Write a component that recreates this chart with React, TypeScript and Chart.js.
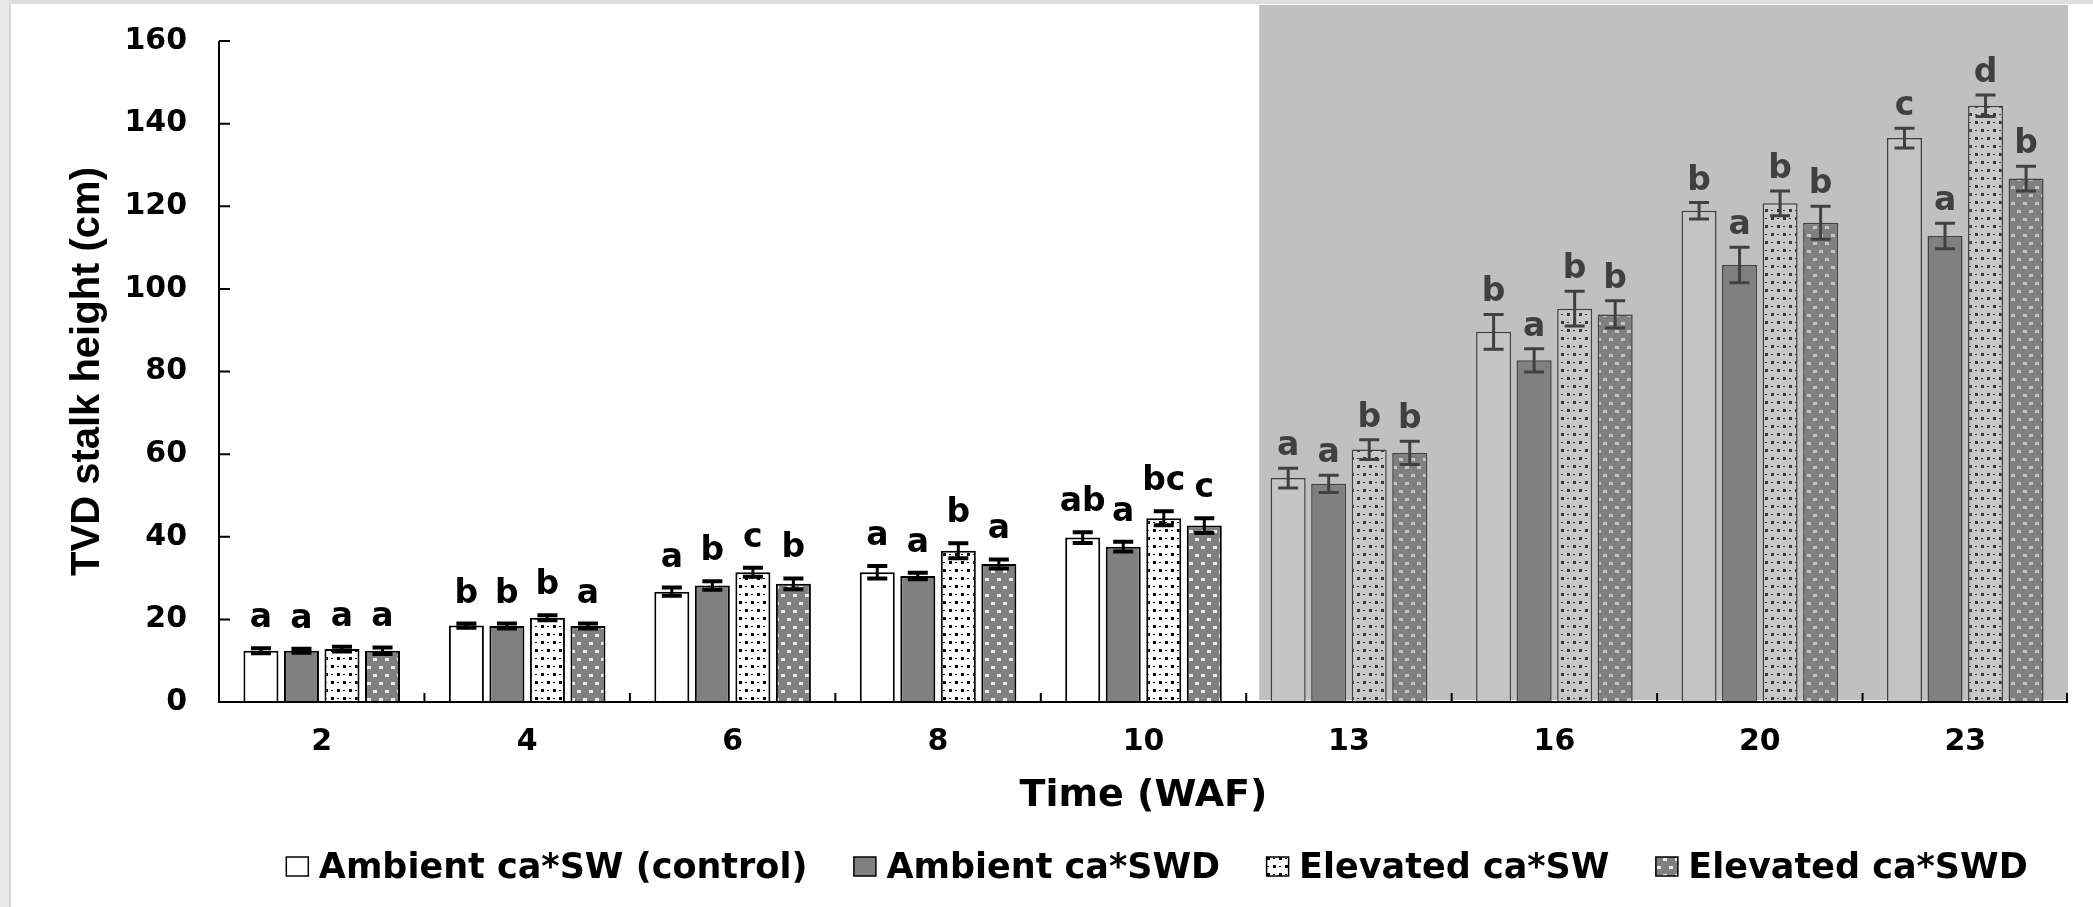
import React, { useEffect, useRef } from 'react';
import { Chart, registerables } from 'chart.js';

Chart.register(...registerables);

// ---------- data ----------
const categories = ['2', '4', '6', '8', '10', '13', '16', '20', '23'];
const seriesLabels = ['Ambient ca*SW (control)', 'Ambient ca*SWD', 'Elevated ca*SW', 'Elevated ca*SWD'];

const ambientSW = [12.4, 18.5, 26.7, 31.4, 39.8, 54.2, 89.6, 118.9, 136.5];
const ambientSWD = [12.4, 18.4, 28.2, 30.5, 37.6, 52.8, 82.7, 105.8, 112.8];
const elevatedSW = [12.8, 20.4, 31.4, 36.6, 44.5, 61.1, 95.2, 120.7, 144.3];
const elevatedSWD = [12.4, 18.4, 28.6, 33.4, 42.7, 60.3, 93.8, 116.0, 126.7];

const ambientSWErr = [0.6, 0.5, 1.0, 1.5, 1.3, 2.4, 4.2, 2.0, 2.4];
const ambientSWDErr = [0.5, 0.6, 1.0, 0.8, 1.2, 2.1, 2.8, 4.3, 3.1];
const elevatedSWErr = [0.6, 0.6, 1.1, 1.8, 1.7, 2.4, 4.2, 3.0, 2.6];
const elevatedSWDErr = [0.8, 0.6, 1.3, 1.1, 1.8, 2.8, 3.3, 4.0, 3.0];

const ambientSWLetters = ['a', 'b', 'a', 'a', 'ab', 'a', 'b', 'b', 'c'];
const ambientSWDLetters = ['a', 'b', 'b', 'a', 'a', 'a', 'a', 'a', 'a'];
const elevatedSWLetters = ['a', 'b', 'c', 'b', 'bc', 'b', 'b', 'b', 'd'];
const elevatedSWDLetters = ['a', 'a', 'b', 'a', 'c', 'b', 'b', 'b', 'b'];

const yMin = 0;
const yMax = 160;
const yStep = 20;

const xTitle = 'Time (WAF)';
const yTitle = 'TVD stalk height (cm)';

// index of first category in the shaded (grey) period
const shadedFrom = 5;

// ---------- styles ----------
const FONT = '"DejaVu Sans", sans-serif';
const FONT_ARIAL = '"Liberation Sans", Arial, sans-serif';
const SHADE = '#c0c0c0';
const DARK = '#404040';

function makePattern(ctx: CanvasRenderingContext2D, bg: string, fg: string, kind: 'sw' | 'swd') {
  const c = document.createElement('canvas');
  c.width = 12;
  c.height = 16;
  const g = c.getContext('2d')!;
  g.fillStyle = bg;
  g.fillRect(0, 0, 12, 16);
  g.fillStyle = fg;
  if (kind === 'sw') {
    g.fillRect(1, 1, 3, 3);
    g.fillRect(7, 9, 3, 3);
    g.fillRect(7, 2, 2, 1);
    g.fillRect(1, 10, 2, 1);
  } else {
    g.fillRect(1, 2, 4, 3);
    g.fillRect(7, 10, 4, 3);
  }
  return ctx.createPattern(c, 'repeat')!;
}

export default function App() {
  const ref = useRef<HTMLCanvasElement | null>(null);

  useEffect(() => {
    const canvas = ref.current!;
    const ctx = canvas.getContext('2d')!;

    const swPlain = makePattern(ctx, '#ffffff', '#000000', 'sw');
    const swShade = makePattern(ctx, '#c8c8c8', '#383838', 'sw');
    const swdPlain = makePattern(ctx, '#808080', '#e8e8e8', 'swd');
    const swdShade = makePattern(ctx, '#808080', '#c4c4c4', 'swd');

    const values = [ambientSW, ambientSWD, elevatedSW, elevatedSWD];
    const errors = [ambientSWErr, ambientSWDErr, elevatedSWErr, elevatedSWDErr];
    const letters = [ambientSWLetters, ambientSWDLetters, elevatedSWLetters, elevatedSWDLetters];
    const plainFills: any[] = ['#ffffff', '#808080', swPlain, swdPlain];
    const shadeFills: any[] = ['#c4c4c4', '#808080', swShade, swdShade];
    const legendFills: any[] = ['#ffffff', '#808080', swPlain, swdPlain];

    const datasets = values.map((data, k) => ({
      label: seriesLabels[k],
      data,
      backgroundColor: categories.map((_, i) => (i >= shadedFrom ? shadeFills[k] : plainFills[k])),
      borderColor: categories.map((_, i) => (i >= shadedFrom ? DARK : '#000000')),
      borderWidth: categories.map((_, i) => (i >= shadedFrom ? 1.5 : 2)),
      categoryPercentage: 0.789,
      barPercentage: 0.864,
    }));

    const bgPlugin = {
      id: 'bg',
      beforeDraw(chart: any) {
        const c = chart.ctx;
        const { width, height } = chart;
        c.save();
        c.fillStyle = '#ffffff';
        c.fillRect(0, 0, width, height);
        c.fillStyle = '#e9e9ee';
        c.fillRect(0, 0, 9, height);
        c.fillStyle = '#d4d4d4';
        c.fillRect(9, 0, 2, height);
        c.fillStyle = '#dedede';
        c.fillRect(9, 0, width - 9, 4);
        c.restore();
      },
      beforeDatasetsDraw(chart: any) {
        const c = chart.ctx;
        const x = chart.scales.x;
        const ca = chart.chartArea;
        const b = (x.getPixelForValue(shadedFrom - 1) + x.getPixelForValue(shadedFrom)) / 2 + 13;
        c.save();
        c.fillStyle = SHADE;
        c.fillRect(b, 5, ca.right - b, ca.bottom - 5 - 2);
        c.restore();
      },
    };

    const overlayPlugin = {
      id: 'overlay',
      afterDatasetsDraw(chart: any) {
        const c = chart.ctx;
        const x = chart.scales.x;
        const y = chart.scales.y;
        const ca = chart.chartArea;
        c.save();
        // error bars + letters
        values.forEach((vals, k) => {
          const meta = chart.getDatasetMeta(k);
          meta.data.forEach((bar: any, i: number) => {
            const shaded = i >= shadedFrom;
            const col = shaded ? DARK : '#000000';
            const cx = bar.x;
            const top = y.getPixelForValue(vals[i] + errors[k][i]);
            const bot = y.getPixelForValue(vals[i] - errors[k][i]);
            c.strokeStyle = col;
            c.lineWidth = 3;
            c.beginPath();
            c.moveTo(cx, top);
            c.lineTo(cx, bot);
            c.stroke();
            c.lineWidth = shaded ? 3 : 4;
            c.beginPath();
            c.moveTo(cx - 10, top);
            c.lineTo(cx + 10, top);
            c.moveTo(cx - 10, bot);
            c.lineTo(cx + 10, bot);
            c.stroke();
            c.fillStyle = col;
            c.font = `bold 33px ${FONT}`;
            c.textAlign = 'center';
            c.textBaseline = 'alphabetic';
            c.fillText(letters[k][i], cx, top - (shaded ? 13 : 21));
          });
        });
        // axes
        c.strokeStyle = '#000000';
        c.lineWidth = 2;
        c.beginPath();
        c.moveTo(ca.left, ca.top);
        c.lineTo(ca.left, ca.bottom + 1);
        c.moveTo(ca.left, ca.bottom);
        c.lineTo(ca.right, ca.bottom);
        for (let v = yMin; v <= yMax; v += yStep) {
          const py = y.getPixelForValue(v);
          c.moveTo(ca.left, py);
          c.lineTo(ca.left + 11, py);
        }
        for (let i = 1; i <= categories.length; i++) {
          const px = i < categories.length
            ? (x.getPixelForValue(i - 1) + x.getPixelForValue(i)) / 2
            : ca.right - 1;
          c.moveTo(px, ca.bottom);
          c.lineTo(px, ca.bottom - 9);
        }
        c.stroke();
        c.restore();
      },
      afterDraw(chart: any) {
        const c = chart.ctx;
        c.save();
        c.font = `bold 35px ${FONT}`;
        const boxW = 22;
        const boxH = 19;
        const gapBox = 10.5;
        const gapItem = 46.5;
        const widths = seriesLabels.map((t) => c.measureText(t).width);
        const total = widths.reduce((a, w) => a + boxW + gapBox + w, 0) + gapItem * (seriesLabels.length - 1);
        let px = 1157 - total / 2;
        const boxTop = 857;
        const baseline = 878;
        seriesLabels.forEach((t, k) => {
          c.fillStyle = legendFills[k];
          c.fillRect(px, boxTop, boxW, boxH);
          c.strokeStyle = '#000000';
          c.lineWidth = 1.5;
          c.strokeRect(px, boxTop, boxW, boxH);
          c.fillStyle = '#000000';
          c.textAlign = 'left';
          c.textBaseline = 'alphabetic';
          c.fillText(t, px + boxW + gapBox, baseline);
          px += boxW + gapBox + widths[k] + gapItem;
        });
        c.restore();
      },
    };

    const chart = new Chart(canvas, {
      type: 'bar',
      data: { labels: categories, datasets },
      options: {
        animation: false,
        responsive: false,
        devicePixelRatio: 1,
        layout: { padding: { top: 41, right: 25, left: 0, bottom: 0 } },
        plugins: { legend: { display: false }, tooltip: { enabled: false } },
        scales: {
          x: {
            type: 'category',
            grid: { display: false, drawTicks: false },
            border: { display: false },
            ticks: { color: '#000', padding: 22, font: { family: FONT, size: 30, weight: 'bold' } },
            title: {
              display: true,
              text: xTitle,
              color: '#000',
              font: { family: FONT, size: 38, weight: 'bold' },
              padding: { top: 0, bottom: 88 },
            },
            afterFit(s: any) {
              s.height = 205;
              s.paddingLeft = 0;
              s.paddingRight = 0;
            },
          },
          y: {
            min: yMin,
            max: yMax,
            grid: { display: false, drawTicks: false },
            border: { display: false },
            ticks: { stepSize: yStep, color: '#000', padding: 32, font: { family: FONT, size: 30, weight: 'bold' } },
            title: {
              display: true,
              text: yTitle,
              color: '#000',
              font: { family: FONT_ARIAL, size: 40, weight: 'bold' },
              padding: { top: 64, bottom: 0 },
            },
            afterFit(s: any) {
              s.width = 219;
              s.paddingTop = 0;
              s.paddingBottom = 0;
            },
          },
        },
      } as any,
      plugins: [bgPlugin, overlayPlugin],
    });

    return () => chart.destroy();
  }, []);

  return (
    <div style={{ position: 'absolute', left: 0, top: 0, width: 2093, height: 907 }}>
      <canvas ref={ref} width={2093} height={907} style={{ display: 'block', width: 2093, height: 907 }} />
    </div>
  );
}
